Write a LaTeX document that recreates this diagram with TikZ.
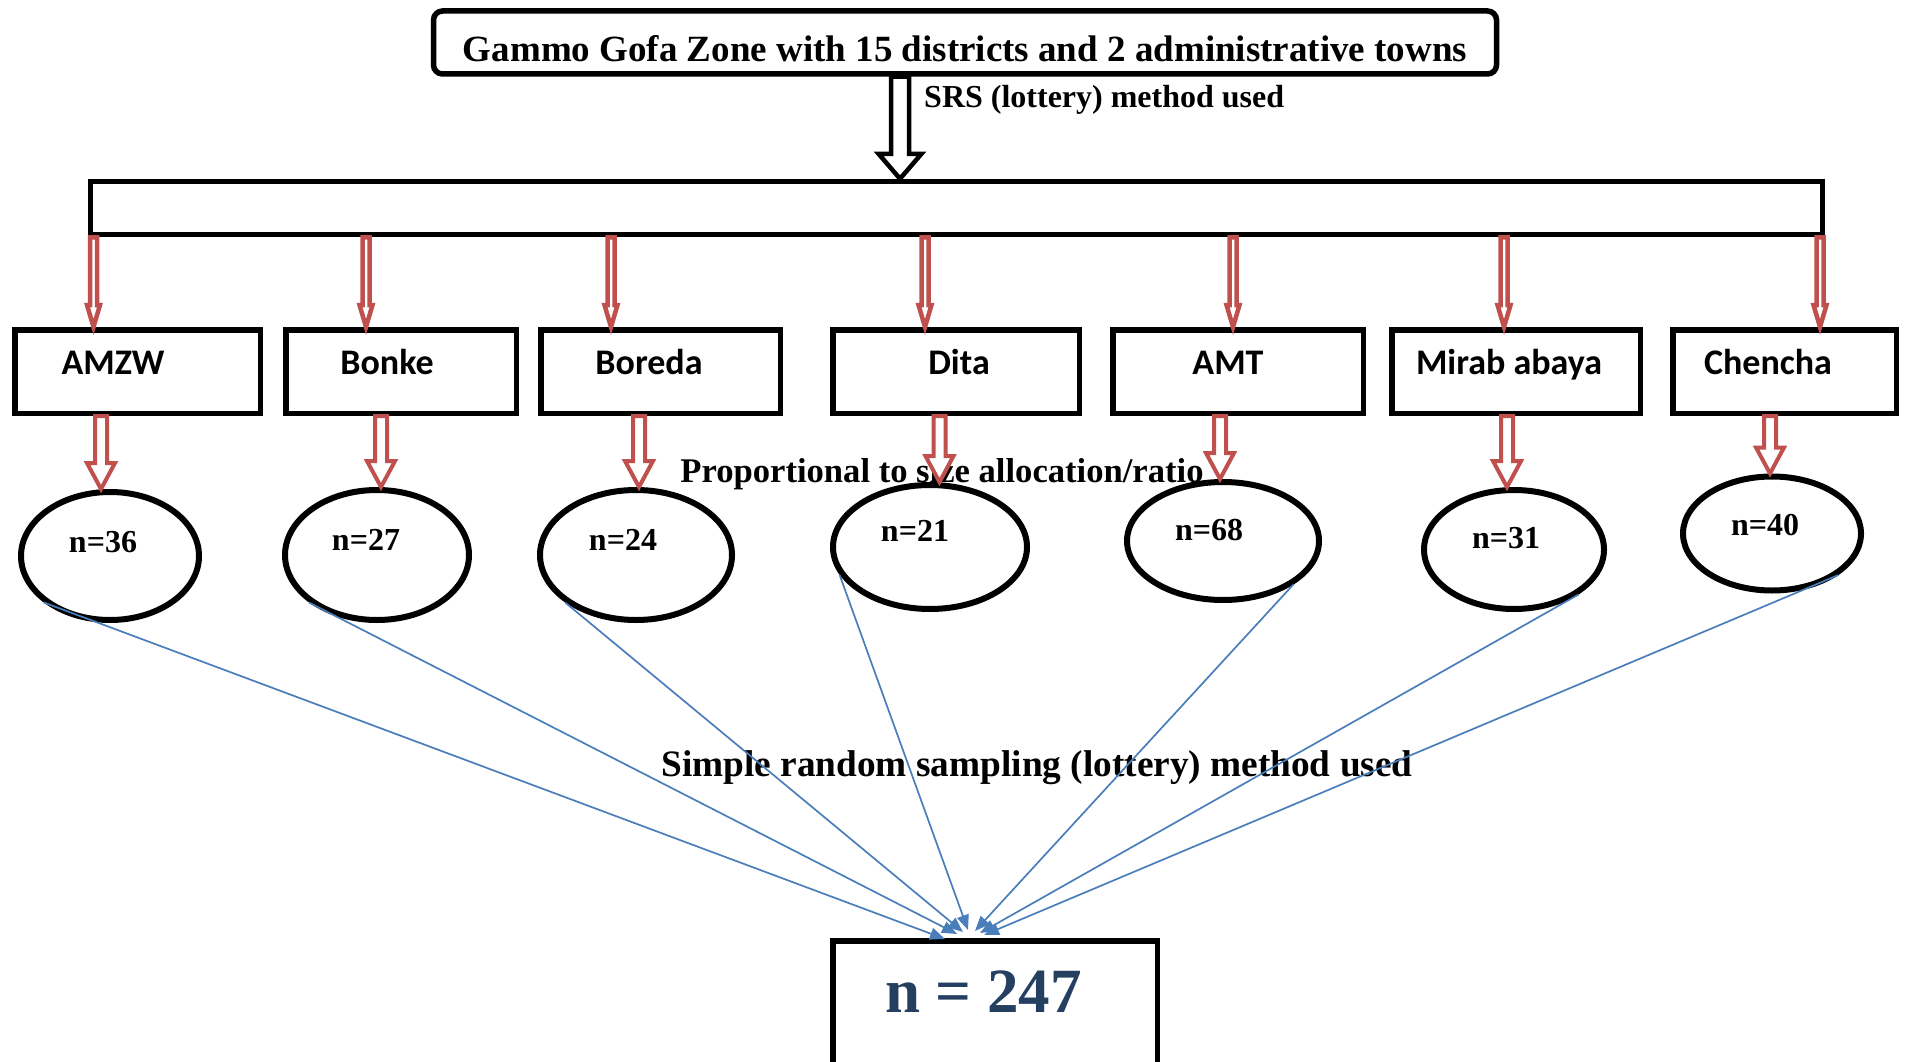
\documentclass[tikz,border=0pt]{standalone}
\usepackage{fontspec}
\setmainfont{Liberation Serif}
\newfontfamily\calibfont{Carlito}
\usetikzlibrary{shapes.geometric,arrows.meta,calc}
\definecolor{redarr}{HTML}{C0504D}
\definecolor{bluel}{HTML}{4A7EBB}
\definecolor{darkblue}{HTML}{243F60}
\tikzset{
  hollowarrow/.style n args={3}{to path={
    let \p1=(\tikztostart), \p2=(\tikztotarget) in
    (\x1-#1,\y1) -- (\x1-#1,\y2+#3) -- (\x1-#2,\y2+#3) -- (\x1,\y2)
    -- (\x1+#2,\y2+#3) -- (\x1+#1,\y2+#3) -- (\x1+#1,\y1) -- cycle}},
}
\begin{document}
\begin{tikzpicture}[x=1pt,y=-1pt,
  thickbox/.style={draw=black, line width=5.5pt, rectangle, inner sep=0pt},
  ell/.style={draw=black, line width=6pt, ellipse, inner sep=0pt},
  dlabel/.style={font=\calibfont\bfseries\fontsize{36}{40}\selectfont, anchor=base, inner sep=0pt},
  nlabel/.style={font=\bfseries\fontsize{32}{36}\selectfont, anchor=base, inner sep=0pt},
  sbold/.style={font=\bfseries\fontsize{#1}{#1}\selectfont, inner sep=0pt},
  toparrow/.style={draw=black, fill=white, line width=4.5pt, line join=miter, hollowarrow={9pt}{21.5pt}{25pt}},
  redthin/.style={draw=redarr, fill=white, line width=4.5pt, line join=miter, hollowarrow={3.5pt}{6.5pt}{22pt}},
  redwide/.style={draw=redarr, fill=white, line width=4pt, line join=miter, hollowarrow={6pt}{14pt}{26pt}},
  blueline/.style={draw=bluel, line width=1.7pt, -{Triangle[length=15pt,width=12pt]}},
]
\useasboundingbox (0,0) rectangle (1910,1062);

% top box
\node[thickbox, rounded corners=9pt, minimum width=1063pt, minimum height=63pt] (top) at (965,42.5) {};
\node[sbold=37, anchor=base] (toptext) at (965,62) {Gammo Gofa Zone with 15 districts and 2 administrative towns};

% wide bar
\node[thickbox, minimum width=1732pt, minimum height=53pt] (bar) at (956.5,208) {};

\coordinate (ax) at (900,0);
\draw[toparrow] (top.south -| ax) to (bar.north -| ax);
\node[sbold=32, anchor=base west] (srs) at (924,108) {SRS (lottery) method used};

% district boxes
\node[thickbox, minimum width=245.5pt, minimum height=83.5pt] (d1) at (137.5,371.5) {};
\node[thickbox, minimum width=230.5pt, minimum height=83.5pt] (d2) at (401,371.5) {};
\node[thickbox, minimum width=239.5pt, minimum height=83.5pt] (d3) at (660.5,371.5) {};
\node[thickbox, minimum width=246.5pt, minimum height=83.5pt] (d4) at (956,371.5) {};
\node[thickbox, minimum width=250.5pt, minimum height=83.5pt] (d5) at (1238,371.5) {};
\node[thickbox, minimum width=248.5pt, minimum height=83.5pt] (d6) at (1516,371.5) {};
\node[thickbox, minimum width=223.5pt, minimum height=83.5pt] (d7) at (1784.5,371.5) {};

\node[dlabel] (t1) at (113,374) {AMZW};
\node[dlabel] (t2) at (387,374) {Bonke};
\node[dlabel] (t3) at (649,374) {Boreda};
\node[dlabel] (t4) at (959,374) {Dita};
\node[dlabel] (t5) at (1228,374) {AMT};
\node[dlabel] (t6) at (1509,374) {Mirab abaya};
\node[dlabel] (t7) at (1768,374) {Chencha};

% red arrows bar -> districts
\foreach \i/\xx in {1/93.5,2/366,3/611,4/925,5/1233,6/1504,7/1820}{
  \coordinate (r\i) at (\xx,0);
  \draw[redthin] (bar.south -| r\i) to (d\i.north -| r\i);
}

% ellipses
\node[ell, minimum width=178pt, minimum height=128pt] (e1) at (110,556) {};
\node[ell, minimum width=184pt, minimum height=130pt] (e2) at (377,555) {};
\node[ell, minimum width=192pt, minimum height=130pt] (e3) at (636,555) {};
\node[ell, minimum width=194pt, minimum height=124pt] (e4) at (930,547) {};
\node[ell, minimum width=192pt, minimum height=118pt] (e5) at (1223,541) {};
\node[ell, minimum width=180pt, minimum height=119pt] (e6) at (1514,549.5) {};
\node[ell, minimum width=178pt, minimum height=114pt] (e7) at (1772,533.5) {};

\node[nlabel] (n1) at (103,552) {n=36};
\node[nlabel] (n2) at (366,550) {n=27};
\node[nlabel] (n3) at (623,550) {n=24};
\node[nlabel] (n4) at (915,541) {n=21};
\node[nlabel] (n5) at (1209,540) {n=68};
\node[nlabel] (n6) at (1506,548) {n=31};
\node[nlabel] (n7) at (1765,535) {n=40};

\node[sbold=34.6, anchor=base] (prop) at (942,482) {Proportional to size allocation/ratio};

% red arrows districts -> ellipses
\foreach \i/\xx in {1/101,2/381,3/639,4/939.5,5/1220,6/1507,7/1770}{
  \coordinate (w\i) at (\xx,0);
  \draw[redwide] (d\i.south -| w\i) to (e\i.north -| w\i);
}

% final box
\node[thickbox, minimum width=324.5pt, minimum height=140pt] (fin) at (995,1010.75) {};
\node[sbold=63, anchor=base, text=darkblue] (total) at (983.5,1012) {n = 247};

\node[sbold=37.3, anchor=base] (srs2) at (1037,776) {Simple random sampling (lottery) method used};

% blue lines
\draw[blueline] (e1.215.7) -- ([shift={(-50,1)}]fin.north);
\draw[blueline] (e2.215) -- ([shift={(-38,-4)}]fin.north);
\draw[blueline] (e3.214.3) -- ([shift={(-32,-6)}]fin.north);
\draw[blueline] (e4.197.8) -- ([shift={(-27,-8)}]fin.north);
\draw[blueline] (e5.328.4) -- ([shift={(-20,-7)}]fin.north);
\draw[blueline] (e6.325.8) -- ([shift={(-15,-5)}]fin.north);
\draw[blueline] (e7.328.5) -- ([shift={(-11,-3)}]fin.north);
\end{tikzpicture}
\end{document}
